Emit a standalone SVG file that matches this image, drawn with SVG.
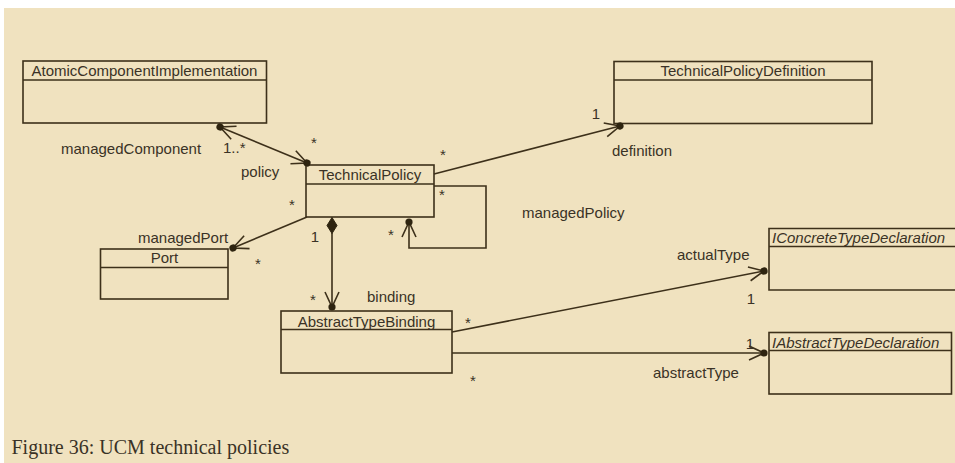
<svg xmlns="http://www.w3.org/2000/svg" width="955" height="463" viewBox="0 0 955 463">
<style>
.box{fill:none;stroke:#3d301a;stroke-width:1.6}
.con{fill:none;stroke:#3d301a;stroke-width:1.6}
text{font-family:"Liberation Sans",Arial,sans-serif;font-size:15px;fill:#3a3226}
.name{text-anchor:middle}
.it{font-style:italic}
.m{text-anchor:middle}
.cap{font-family:"Liberation Serif","Times New Roman",serif;font-size:20px;fill:#3a3226}
</style>
<defs>
<marker id="nav" markerUnits="userSpaceOnUse" viewBox="-20 -10 26 20" refX="0" refY="0" markerWidth="26" markerHeight="20" orient="auto-start-reverse" overflow="visible">
<path d="M-15,-7 L0,0 L-15,7" fill="none" stroke="#3d301a" stroke-width="1.6"/>
<circle cx="0" cy="0" r="3.6" fill="#2e2410"/>
</marker>
</defs>
<rect x="0" y="0" width="955" height="463" fill="#ffffff"/>
<rect x="4" y="8" width="951" height="455" fill="#f0e2bf"/>

<g id="AtomicComponentImplementation">
<rect class="box" x="23" y="61" width="243.5" height="62"/>
<line class="box" x1="23" y1="80" x2="266.5" y2="80"/>
<text class="name" x="144.5" y="76">AtomicComponentImplementation</text>
</g>
<g id="TechnicalPolicyDefinition">
<rect class="box" x="614" y="61.5" width="258" height="62"/>
<line class="box" x1="614" y1="80" x2="872" y2="80"/>
<text class="name" x="743" y="76">TechnicalPolicyDefinition</text>
</g>
<g id="TechnicalPolicy">
<rect class="box" x="306" y="165" width="128" height="52"/>
<line class="box" x1="306" y1="184" x2="434" y2="184"/>
<text class="name" x="370" y="180">TechnicalPolicy</text>
</g>
<g id="Port">
<rect class="box" x="100.5" y="249" width="127.5" height="50"/>
<line class="box" x1="100.5" y1="267.5" x2="228" y2="267.5"/>
<text class="name" x="164.5" y="263">Port</text>
</g>
<g id="AbstractTypeBinding">
<rect class="box" x="281" y="311" width="171" height="62"/>
<line class="box" x1="281" y1="329.5" x2="452" y2="329.5"/>
<text class="name" x="366.5" y="326.5">AbstractTypeBinding</text>
</g>
<g id="IConcreteTypeDeclaration">
<path class="box" d="M960,228.5 H769 V290 H960"/>
<line class="box" x1="769" y1="246.5" x2="960" y2="246.5"/>
<text class="it" x="772" y="243">IConcreteTypeDeclaration</text>
</g>
<g id="IAbstractTypeDeclaration">
<rect class="box" x="769" y="332.5" width="182.5" height="61.5"/>
<line class="box" x1="769" y1="350.5" x2="951.5" y2="350.5"/>
<text class="it" x="772" y="347.5">IAbstractTypeDeclaration</text>
</g>

<g id="connectors">
<line class="con" x1="220" y1="127" x2="307" y2="163" marker-start="url(#nav)" marker-end="url(#nav)"/>
<line class="con" x1="434" y1="174" x2="620" y2="126" marker-end="url(#nav)"/>
<path class="con" d="M434,186 H486 V248 H409 V222" marker-end="url(#nav)"/>
<line class="con" x1="307" y1="217" x2="233" y2="248" marker-end="url(#nav)"/>
<line class="con" x1="332" y1="233" x2="332" y2="307" marker-end="url(#nav)"/>
<polygon points="332,217.5 337,225.5 332,233.5 327,225.5" fill="#2e2410" stroke="#2e2410" stroke-width="1"/>
<line class="con" x1="452" y1="332" x2="764" y2="271" marker-end="url(#nav)"/>
<line class="con" x1="452" y1="353" x2="764" y2="353" marker-end="url(#nav)"/>
</g>

<g id="labels">
<text x="61" y="154">managedComponent</text>
<text x="223" y="153">1..*</text>
<text class="m" x="314" y="148">*</text>
<text x="241" y="176.5">policy</text>
<text class="m" x="443" y="160">*</text>
<text class="m" x="596" y="118.5">1</text>
<text x="612" y="156">definition</text>
<text class="m" x="442" y="200">*</text>
<text x="522" y="218">managedPolicy</text>
<text class="m" x="292" y="210">*</text>
<text class="m" x="391" y="240">*</text>
<text class="m" x="315" y="242">1</text>
<text x="138" y="242.5">managedPort</text>
<text class="m" x="258" y="269">*</text>
<text class="m" x="313" y="305">*</text>
<text x="367" y="302">binding</text>
<text class="m" x="468" y="328">*</text>
<text class="m" x="473" y="386">*</text>
<text x="677" y="260">actualType</text>
<text class="m" x="751" y="304">1</text>
<text class="m" x="750" y="349">1</text>
<text x="653" y="378">abstractType</text>
</g>
<text class="cap" x="11.5" y="454">Figure 36: UCM technical policies</text>
</svg>
